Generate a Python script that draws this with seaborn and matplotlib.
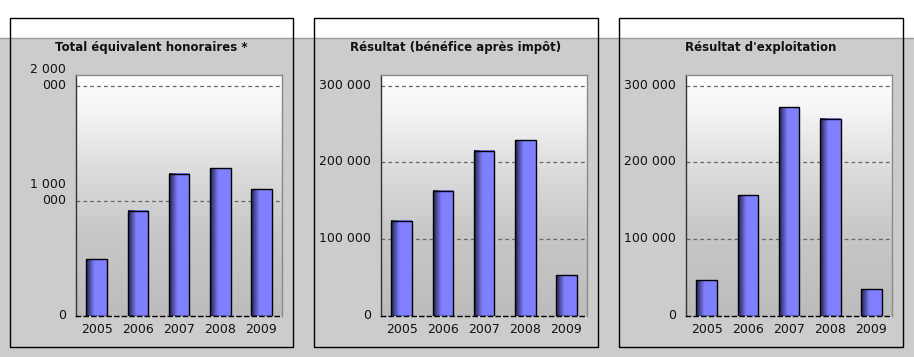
import numpy as np
import pandas as pd
import matplotlib
matplotlib.use("Agg")
import matplotlib.pyplot as plt
import seaborn as sns
from matplotlib.patches import Rectangle
from matplotlib.lines import Line2D
from matplotlib.transforms import ScaledTranslation

# data
years = ["2005", "2006", "2007", "2008", "2009"]
honoraires = [493000, 913000, 1235000, 1284000, 1100000]
benefice = [124000, 163000, 215000, 229000, 53000]
exploitation = [46500, 157000, 272000, 257000, 35000]

titles = ["Total équivalent honoraires *",
          "Résultat (bénéfice après impôt)",
          "Résultat d'exploitation"]
series = [honoraires, benefice, exploitation]
ytick_values = [[0, 1000000, 2000000],
                [0, 100000, 200000, 300000],
                [0, 100000, 200000, 300000]]
ytick_labels = [["0", "1 000\n000", "2 000\n000"],
                ["0", "100 000", "200 000", "300 000"],
                ["0", "100 000", "200 000", "300 000"]]
ymax = [2095000, 314000, 314000]

sns.set_style("white")
plt.rcParams["font.family"] = ["DejaVu Sans"]

W, H = 914, 357
fig = plt.figure(figsize=(W / 100, H / 100), dpi=100)
fig.patch.set_facecolor("white")

# grey band below the white strip
fig.patches.append(Rectangle((0, 0), 1, 1 - 38 / H, transform=fig.transFigure,
                             facecolor="#cccccc", edgecolor="none", zorder=-5))
fig.lines.append(Line2D([0, 1], [1 - 38 / H] * 2, transform=fig.transFigure,
                        color="#999999", lw=1, zorder=-4))

boxes = [(10, 293), (314, 598), (619, 903)]
axes_left = [76, 381, 686]


def px(x, y):
    return x / W, 1 - y / H


# vertical background gradient for plot area
levels = np.interp(np.linspace(0, 1, 256), [0, 0.35, 0.6, 0.85, 1.0],
                   [188, 200, 220, 245, 255]) / 255
bg = np.repeat(levels[::-1, None, None], 3, axis=2)

# horizontal gradient for bars: dark left edge fading to the bar colour
base = np.array([0x80, 0x80, 0xff]) / 255
dark = np.array([0x20, 0x20, 0x48]) / 255
t = np.clip(np.linspace(0, 1, 64) / 0.4, 0, 1)
bar_grad = (dark[None, :] * (1 - t[:, None]) + base[None, :] * t[:, None])[None, :, :]

for i in range(3):
    x0, x1 = boxes[i]
    l, b = px(x0, 347)
    fig.patches.append(Rectangle((l, b), (x1 - x0) / W, (347 - 18) / H,
                                 transform=fig.transFigure, facecolor="none",
                                 edgecolor="black", lw=1, zorder=-3))
    fig.text((x0 + x1) / 2 / W, 1 - 47 / H, titles[i], ha="center", va="center",
             fontsize=8.5, fontweight="bold", color="#111111")

    al, ab = px(axes_left[i], 316)
    ax = fig.add_axes([al, ab, 206 / W, (316 - 75) / H])
    ax.imshow(bg, extent=[0, 1, 0, 1], transform=ax.transAxes, aspect="auto",
              zorder=0)

    df = pd.DataFrame({"year": years, "value": series[i]})
    sns.barplot(data=df, x="year", y="value", color="#8080ff", width=0.5,
                edgecolor="black", linewidth=1, saturation=1, ax=ax, zorder=3)
    for p in ax.patches:
        px0, py0 = p.get_x(), p.get_y()
        ax.imshow(bar_grad, extent=[px0, px0 + p.get_width(), py0, py0 + p.get_height()],
                  aspect="auto", zorder=2.5, clip_path=p)
        p.set_facecolor("none")

    ax.set_xlim(-0.5, 4.5)
    ax.set_ylim(0, ymax[i])
    ax.set_xlabel("")
    ax.set_ylabel("")

    for v in ytick_values[i][1:]:
        ax.axhline(v, color="#666666", lw=0.9, ls=(0, (3, 2.5)), zorder=1)
    ax.set_yticks([])
    offset = ScaledTranslation(-10 / 100, -6 / 100, fig.dpi_scale_trans)
    for v, lab in zip(ytick_values[i], ytick_labels[i]):
        ax.text(0, v, lab, transform=ax.get_yaxis_transform() + offset,
                ha="right", va="bottom", fontsize=9, color="#111111",
                multialignment="right", linespacing=1.25)

    ax.set_xticks(range(len(years)))
    ax.set_xticklabels(years, fontsize=9, color="#111111")
    ax.tick_params(axis="x", which="major", length=0, pad=5)
    ax.set_xticks(np.arange(0.5, 5, 1), minor=True)
    ax.tick_params(axis="x", which="minor", direction="inout", length=7,
                   width=1, color="black")

    for s in ["top", "right"]:
        ax.spines[s].set_color("#8a8a8a")
        ax.spines[s].set_linewidth(1)
    ax.spines["left"].set_color("#333333")
    ax.spines["left"].set_linewidth(1)
    ax.spines["bottom"].set_color("black")
    ax.spines["bottom"].set_linestyle((0, (3, 2.5)))
    ax.spines["bottom"].set_linewidth(1)

fig.savefig("out.png", dpi=100)
